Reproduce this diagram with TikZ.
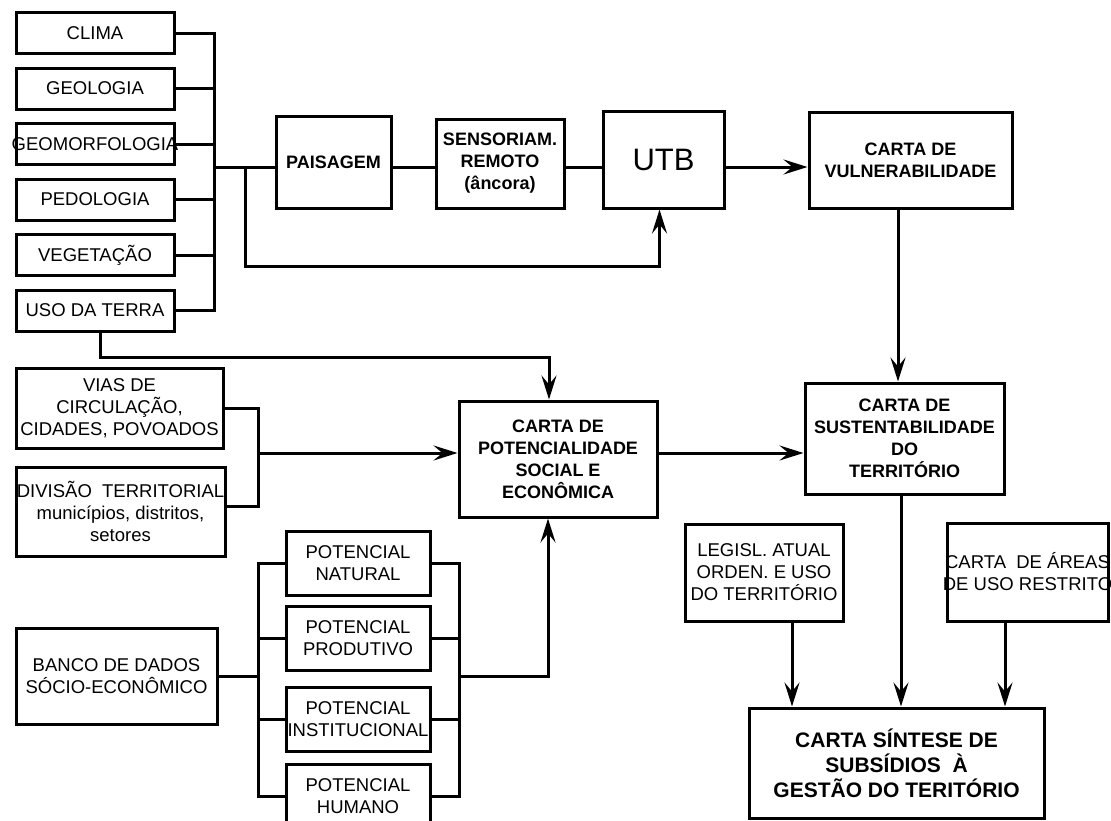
\documentclass[tikz,border=0pt]{standalone}
\usepackage{fontspec}
\setmainfont{Liberation Sans}
\usetikzlibrary{arrows.meta}
\newcommand{\wide}[1]{\makebox[0pt]{#1}}

\begin{document}
\begin{tikzpicture}[x=1pt,y=-1pt,
    box/.style={draw,line width=3pt,inner sep=0pt,align=center,font=\fontsize{18.5}{22}\selectfont},
    bbox/.style={box,font=\fontsize{18}{22}\selectfont\bfseries},
    ln/.style={line width=3pt,line cap=rect},
    arr/.style={ln,-{Stealth[length=24pt,width=15pt,inset=9pt]}}]
    \path[fill=white,use as bounding box] (0,0) rectangle (1111,820);

    \node[box,minimum width=158pt,minimum height=41pt] (clima) at (95,33) {CLIMA};
    \node[box,minimum width=158pt,minimum height=41pt] (geologia) at (95,88.5) {GEOLOGIA};
    \node[box,minimum width=158pt,minimum height=41pt] (geomorf) at (95,144) {\wide{GEOMORFOLOGIA}};
    \node[box,minimum width=158pt,minimum height=41pt] (pedologia) at (95,199.5) {PEDOLOGIA};
    \node[box,minimum width=158pt,minimum height=41pt] (vegetacao) at (95,255) {VEGETAÇÃO};
    \node[box,minimum width=158pt,minimum height=41pt] (usoterra) at (95,310.5) {USO DA TERRA};

    \node[bbox,minimum width=115pt,minimum height=92pt] (paisagem) at (333.5,162) {PAISAGEM};
    \node[bbox,minimum width=128pt,minimum height=89pt] (sensor) at (500,163.5) {SENSORIAM.\\REMOTO\\(âncora)};
    \node[box,minimum width=121pt,minimum height=97pt,font=\fontsize{31}{36}\selectfont] (utb) at (663.5,159.5) {UTB};
    \node[bbox,minimum width=203pt,minimum height=96pt] (vuln) at (910.5,160) {CARTA DE\\VULNERABILIDADE};

    \node[box,minimum width=207pt,minimum height=80pt] (vias) at (119.5,408) {VIAS DE\\CIRCULAÇÃO,\\CIDADES, POVOADOS};
    \node[box,minimum width=209pt,minimum height=89pt] (divisao) at (120.5,511.5) {\wide{DIVISÃO\ \ TERRITORIAL}\\municípios, distritos,\\setores};
    \node[bbox,minimum width=198pt,minimum height=116pt] (pot) at (558,459) {CARTA DE\\POTENCIALIDADE\\SOCIAL E\\ECONÔMICA};
    \node[bbox,minimum width=199pt,minimum height=111pt] (sustent) at (904.5,438.5) {CARTA DE\\SUSTENTABILIDADE\\DO\\TERRITÓRIO};

    \node[box,minimum width=158pt,minimum height=97pt] (legisl) at (764,572.5) {LEGISL. ATUAL\\ORDEN. E USO\\DO TERRITÓRIO};
    \node[box,minimum width=161pt,minimum height=98pt] (areas) at (1027.5,572) {\wide{CARTA\ \ DE ÁREAS}\\\wide{DE USO RESTRITO}};
    \node[bbox,minimum width=295pt,minimum height=110pt,font=\fontsize{21}{25}\selectfont\bfseries] (sintese) at (896.5,763) {CARTA SÍNTESE DE\\SUBSÍDIOS\ \ À\\GESTÃO DO TERITÓRIO};

    \node[box,minimum width=201pt,minimum height=96pt] (banco) at (116.5,676) {BANCO DE DADOS\\SÓCIO-ECONÔMICO};
    \node[box,minimum width=144pt,minimum height=64pt] (natural) at (358,563) {POTENCIAL\\NATURAL};
    \node[box,minimum width=144pt,minimum height=64pt] (produtivo) at (358,638) {POTENCIAL\\PRODUTIVO};
    \node[box,minimum width=144pt,minimum height=64pt] (instit) at (358,719) {POTENCIAL\\\wide{INSTITUCIONAL}};
    \node[box,minimum width=144pt,minimum height=64pt] (humano) at (358,796) {POTENCIAL\\HUMANO};

    \coordinate (busA) at (214,167);
    \coordinate (split) at (245,167);
    \coordinate (lbus) at (258,0);
    \coordinate (rbus) at (459,0);
    \coordinate (vdmid) at (258,453);

    \draw[ln] (clima.east) -- (clima.east -| busA) -- (usoterra.east -| busA) -- (usoterra.east);
    \draw[ln] (geologia.east) -- (geologia.east -| busA);
    \draw[ln] (geomorf.east) -- (geomorf.east -| busA);
    \draw[ln] (pedologia.east) -- (pedologia.east -| busA);
    \draw[ln] (vegetacao.east) -- (vegetacao.east -| busA);
    \draw[ln] (busA) -- (busA -| paisagem.west);
    \draw[ln] (busA -| paisagem.east) -- (busA -| sensor.west);
    \draw[ln] (busA -| sensor.east) -- (busA -| utb.west);
    \draw[arr] (busA -| utb.east) -- (busA -| vuln.west);
    \draw[arr] (split) -- ++(0,99) -| ([xshift=-4pt]utb.south);
    \draw[arr] ([xshift=-12.5pt]vuln.south) -- ([xshift=-12.5pt]vuln.south |- sustent.north);

    \draw[arr] ([xshift=5pt]usoterra.south) -- ++(0,25) -| ([xshift=-9pt]pot.north);
    \draw[ln] (vias.east) -| ([yshift=5pt]divisao.east -| lbus) -- ([yshift=5pt]divisao.east);
    \draw[arr] (vdmid) -- (vdmid -| pot.west);
    \draw[arr] (vdmid -| pot.east) -- (vdmid -| sustent.west);

    \draw[arr] ([xshift=-3.5pt]sustent.south) -- ([xshift=-3.5pt]sustent.south |- sintese.north);
    \draw[arr] ([xshift=28pt]legisl.south) -- ([xshift=28pt]legisl.south |- sintese.north);
    \draw[arr] ([xshift=-22.5pt]areas.south) -- ([xshift=-22.5pt]areas.south |- sintese.north);

    \draw[ln] (natural.west -| lbus) -- (humano.west -| lbus);
    \draw[ln] (natural.west) -- (natural.west -| lbus);
    \draw[ln] (produtivo.west) -- (produtivo.west -| lbus);
    \draw[ln] (instit.west) -- (instit.west -| lbus);
    \draw[ln] (humano.west) -- (humano.west -| lbus);
    \draw[ln] (banco.east) -- (banco.east -| lbus);
    \draw[ln] (natural.east -| rbus) -- (humano.east -| rbus);
    \draw[ln] (natural.east) -- (natural.east -| rbus);
    \draw[ln] (produtivo.east) -- (produtivo.east -| rbus);
    \draw[ln] (instit.east) -- (instit.east -| rbus);
    \draw[ln] (humano.east) -- (humano.east -| rbus);
    \draw[arr] (banco.east -| rbus) -| ([xshift=-10pt]pot.south);
\end{tikzpicture}
\end{document}
